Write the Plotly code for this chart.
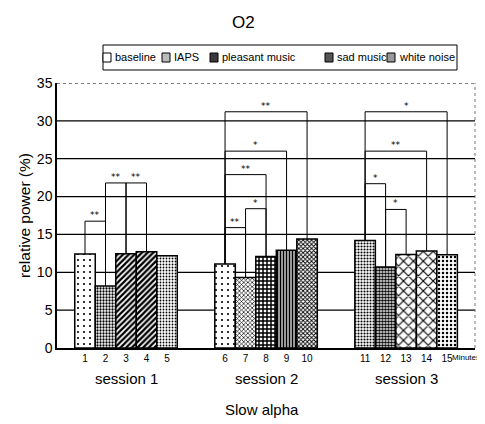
import plotly.graph_objects as go

# ---------------- data ----------------
conditions = ["baseline", "IAPS", "pleasant music", "sad music", "white noise"]
sessions = ["session 1", "session 2", "session 3"]
# relative power (%) per condition, one value per session
baseline = [12.4, 11.1, 14.2]
iaps = [8.2, 9.3, 10.7]
pleasant = [12.45, 12.1, 12.35]
sad = [12.7, 12.9, 12.8]
white_noise = [12.2, 14.4, 12.3]
minute_labels = [str(i) for i in range(1, 16)]
y_ticks = [0, 5, 10, 15, 20, 25, 30, 35]
# significance brackets: (session, cond_a, cond_b, height, label)
brackets = [
    (0, 0, 1, 16.75, "**"),
    (0, 1, 2, 21.8, "**"),
    (0, 2, 3, 21.8, "**"),
    (1, 0, 1, 15.9, "**"),
    (1, 1, 2, 18.4, "*"),
    (1, 0, 2, 22.9, "**"),
    (1, 0, 3, 26.0, "*"),
    (1, 0, 4, 31.2, "**"),
    (2, 0, 1, 21.7, "*"),
    (2, 1, 2, 18.3, "*"),
    (2, 0, 3, 26.0, "**"),
    (2, 0, 4, 31.2, "*"),
]
values = [baseline, iaps, pleasant, sad, white_noise]

# ---------------- layout ----------------
# the page body has an 8px margin, so the figure is drawn 8px right/down
PAGE_OFF = 8
REF_W, REF_H = 485, 424
PL, PR, PT, PB = 57, 475, 83, 348   # plot area in window pixels
W, H = REF_W - PAGE_OFF, REF_H - PAGE_OFF
ML, MT = PL - PAGE_OFF, PT - PAGE_OFF
PW, PH = PR - PL, PB - PT
MR, MB = W - ML - PW, H - MT - PH
SESSION_STEP = 6.83


def xpos(s, c):
    return s * SESSION_STEP + c


def px_x(px):
    return (px - PL) / PW


def px_y(py):
    return (PB - py) / PH


styles = [
    dict(shape=[".", ".", "."], size=[6, 6, 3], solidity=[0.1, 0.1, 0.4]),
    dict(shape=[".", "x", "."], size=[3, 3, 3], solidity=[0.45, 0.4, 0.6]),
    dict(shape=["/", "+", "x"], size=[4, 4, 7], solidity=[0.55, 0.6, 0.3]),
    dict(shape=["/", "|", "x"], size=[4, 3, 7], solidity=[0.6, 0.6, 0.3]),
    dict(shape=[".", "x", "."], size=[3, 3, 4], solidity=[0.3, 0.5, 0.3]),
]
swatch_fill = ["#ffffff", "#bbbbbb", "#3a3a3a", "#555555", "#999999"]

fig = go.Figure()
for ci, (name, vals) in enumerate(zip(conditions, values)):
    st = styles[ci]
    fig.add_trace(go.Bar(
        x=[xpos(s, ci) for s in range(len(sessions))],
        y=vals,
        name=name,
        width=1.0,
        showlegend=False,
        marker=dict(
            color="white",
            line=dict(color="black", width=1.5),
            pattern=dict(shape=st["shape"], size=st["size"], solidity=st["solidity"],
                         fgcolor="black", bgcolor="white", fillmode="replace"),
        ),
    ))

shapes = []
for yv in y_ticks[1:-1]:
    shapes.append(dict(type="line", xref="paper", x0=0, x1=1, yref="y", y0=yv, y1=yv,
                       line=dict(color="black", width=1.2), layer="below"))
shapes.append(dict(type="line", xref="paper", x0=0, x1=1, yref="y", y0=35, y1=35,
                   line=dict(color="black", width=1, dash="dot"), layer="below"))
shapes.append(dict(type="line", xref="paper", x0=1, x1=1, yref="y", y0=0, y1=35,
                   line=dict(color="#777", width=1, dash="dot"), layer="below"))

annotations = []
for s, a, b, h, lab in brackets:
    xa, xb = xpos(s, a), xpos(s, b)
    ya, yb = values[a][s], values[b][s]
    for xx, yy in ((xa, ya), (xb, yb)):
        shapes.append(dict(type="line", xref="x", yref="y", x0=xx, x1=xx, y0=yy, y1=h,
                           line=dict(color="black", width=1)))
    shapes.append(dict(type="line", xref="x", yref="y", x0=xa, x1=xb, y0=h, y1=h,
                       line=dict(color="black", width=1)))
    annotations.append(dict(x=(xa + xb) / 2, y=h, xref="x", yref="y", text=lab,
                            showarrow=False, yanchor="bottom", yshift=-1,
                            font=dict(family="DejaVu Sans", size=9, color="black")))

font_main = "Liberation Sans, Arial, sans-serif"

# manual legend (box + swatches + labels)
leg_left, leg_right, leg_top, leg_bot = 103, 457, 45, 70
shapes.append(dict(type="rect", xref="paper", yref="paper",
                   x0=px_x(leg_left), x1=px_x(leg_right), y0=px_y(leg_bot), y1=px_y(leg_top),
                   line=dict(color="black", width=1), fillcolor="white"))
swatch_px = [107, 166, 214, 329, 391]
leg_cy = 57.5
for ci, name in enumerate(conditions):
    sx = swatch_px[ci]
    shapes.append(dict(type="rect", xref="paper", yref="paper",
                       x0=px_x(sx - 4), x1=px_x(sx + 4), y0=px_y(leg_cy + 4.5), y1=px_y(leg_cy - 4.5),
                       line=dict(color="black", width=1), fillcolor=swatch_fill[ci]))
    annotations.append(dict(x=px_x(sx + 6), y=px_y(leg_cy), xref="paper", yref="paper",
                            text=name, showarrow=False, xanchor="left", yanchor="middle",
                            font=dict(family=font_main, size=11, color="black")))

for s, sname in enumerate(sessions):
    annotations.append(dict(x=xpos(s, 2), y=0, xref="x", yref="paper", text=sname,
                            showarrow=False, yanchor="middle", yshift=-30,
                            font=dict(family=font_main, size=15, color="black")))
annotations.append(dict(x=xpos(1, 2) - 0.2, y=0, xref="x", yref="paper", text="Slow alpha",
                        showarrow=False, yanchor="middle", yshift=-61,
                        font=dict(family=font_main, size=15, color="black")))
annotations.append(dict(x=1.0, y=0, xref="paper", yref="paper", text="Minutes",
                        showarrow=False, xanchor="right", yanchor="middle", yshift=-9, xshift=7,
                        font=dict(family=font_main, size=8, color="black")))
annotations.append(dict(x=px_x(243), y=px_y(22), xref="paper", yref="paper", text="O2",
                        showarrow=False, yanchor="middle",
                        font=dict(family=font_main, size=17, color="black")))

tickvals = [xpos(s, c) for s in range(len(sessions)) for c in range(len(conditions))]

fig.update_layout(
    width=W, height=H,
    margin=dict(l=ML, r=MR, t=MT, b=MB, autoexpand=False),
    paper_bgcolor="white", plot_bgcolor="white",
    barmode="overlay",
    showlegend=False,
    shapes=shapes,
    annotations=annotations,
    xaxis=dict(range=[-1.366, 19.02], tickvals=tickvals, ticktext=minute_labels,
               automargin=False,
               showgrid=False, zeroline=False, showline=True, linecolor="black", linewidth=1.5,
               ticks="", tickfont=dict(family=font_main, size=10, color="black")),
    yaxis=dict(range=[0, 35], tickvals=y_ticks, showgrid=False, zeroline=False,
               automargin=False,
               showline=True, linecolor="black", linewidth=1.5, ticks="",
               tickfont=dict(family=font_main, size=14, color="black"),
               title=dict(text="relative power (%)", standoff=2,
                          font=dict(family=font_main, size=15.5, color="black"))),
)

fig.write_html("out.html")
